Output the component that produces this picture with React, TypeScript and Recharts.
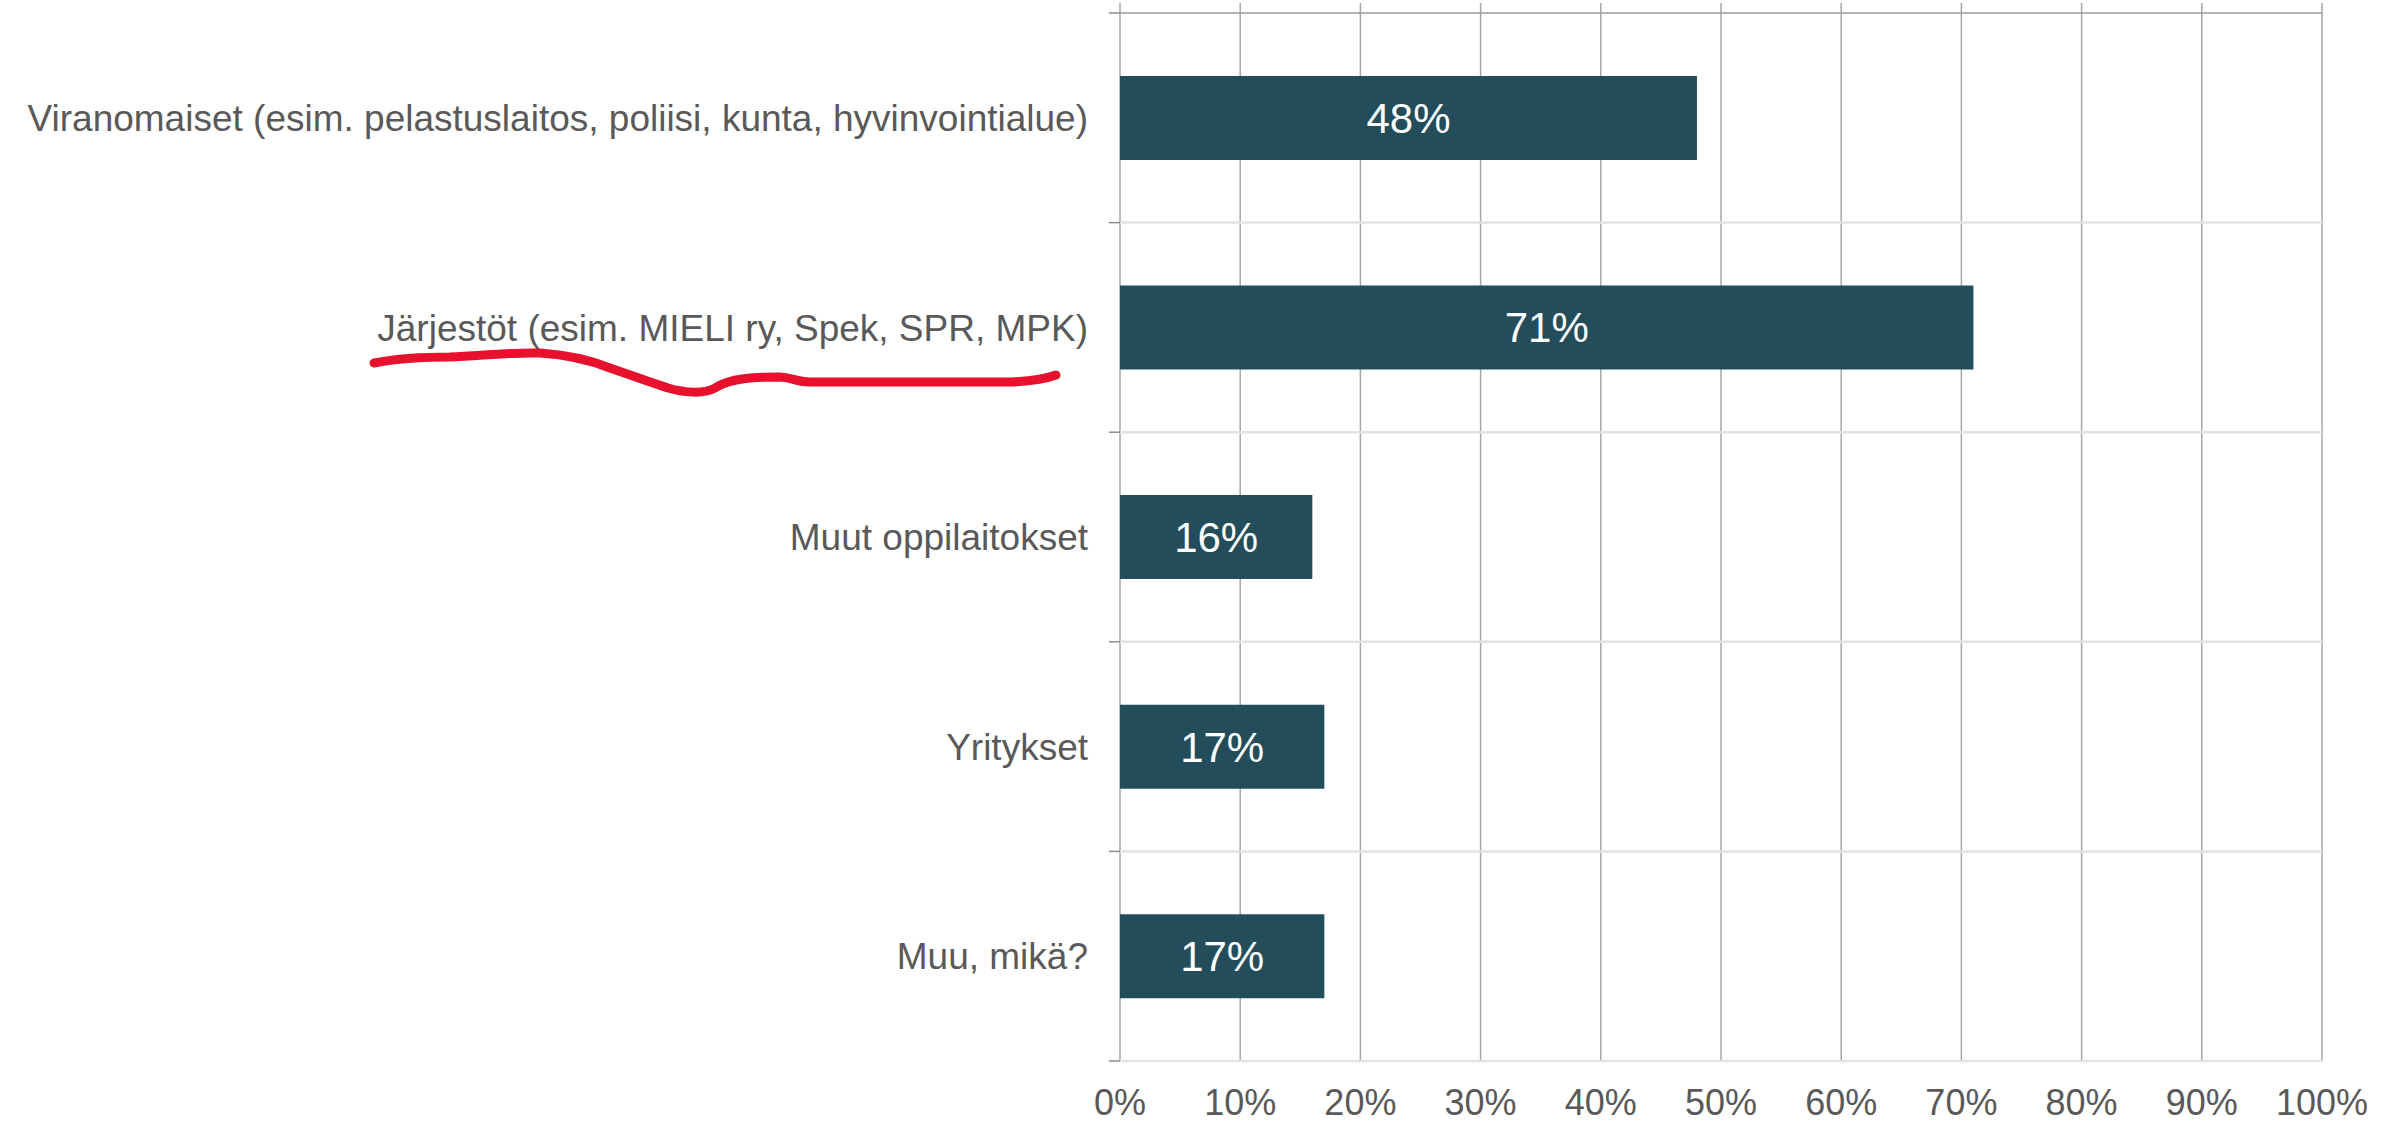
import { BarChart, Bar, XAxis, YAxis, CartesianGrid, LabelList } from 'recharts';

const categories = [
  'Viranomaiset (esim. pelastuslaitos, poliisi, kunta, hyvinvointialue)',
  'Järjestöt (esim. MIELI ry, Spek, SPR, MPK)',
  'Muut oppilaitokset',
  'Yritykset',
  'Muu, mikä?',
];
const shares = [48, 71, 16, 17, 17];
const xTicks = [0, 10, 20, 30, 40, 50, 60, 70, 80, 90, 100];

const data = categories.map((name, i) => ({ name, value: shares[i] }));

const FONT = '"Liberation Sans", Arial, sans-serif';
const TEXT = '#595959';

const CHART_H = 1124;
const MARGIN_TOP = 3;
const X_AXIS_H = 63;
const PAD_TOP = 10;
const LABEL_GAP = 32;
// height of one category band
const bandStep = (CHART_H - MARGIN_TOP - X_AXIS_H - PAD_TOP) / categories.length;

// band boundaries for the light separator lines
const bandLines = ({ offset }: any) => {
  const top = offset.top + PAD_TOP;
  const h = offset.height - PAD_TOP;
  return categories.map((_, i) => top + ((i + 1) * h) / categories.length);
};
const topLine = ({ offset }: any) => [offset.top + PAD_TOP];

// label plus the short outward tick at the top (and for the last one, bottom) of each band
const CategoryTick = (props: any) => {
  const { x, y, payload, index } = props;
  const tx = x + LABEL_GAP;
  return (
    <g>
      <line x1={tx - 11} x2={tx} y1={y - bandStep / 2} y2={y - bandStep / 2} stroke="#8c8c8c" strokeWidth={1.5} />
      {index === categories.length - 1 && (
        <line x1={tx - 11} x2={tx} y1={y + bandStep / 2} y2={y + bandStep / 2} stroke="#8c8c8c" strokeWidth={1.5} />
      )}
      <text x={x} y={y} dy="0.355em" textAnchor="end" fill={TEXT} fontSize={37} fontFamily={FONT}>
        {payload.value}
      </text>
    </g>
  );
};

// hand-drawn red underline from the original screenshot (annotation, not data)
const underline = 'M374 363 C 400 358, 425 357, 450 357 C 480 356, 510 352, 540 353 C 570 355, 590 360, 610 368 C 630 375, 650 382, 668 388 C 685 393, 705 394, 715 388 C 730 378, 755 377, 780 377 C 795 378, 795 382, 810 382 L 1012 382 C 1030 381, 1045 379, 1056 375';

export default function App() {
  return (
    <div style={{ position: 'absolute', left: 0, top: 0, width: 2399, height: CHART_H, background: '#fff', fontFamily: FONT }}>
      <BarChart
        width={2399}
        height={CHART_H}
        data={data}
        layout="vertical"
        margin={{ top: MARGIN_TOP, right: 77, bottom: 0, left: 0 }}
        barCategoryGap="30%"
      >
        <CartesianGrid horizontal={false} stroke="#a6a6a6" strokeWidth={1.5} />
        <CartesianGrid vertical={false} horizontalCoordinatesGenerator={bandLines} stroke="#e2e2e2" strokeWidth={2.5} />
        <CartesianGrid vertical={false} horizontalCoordinatesGenerator={topLine} stroke="#9a9a9a" strokeWidth={1.5} />
        <XAxis
          type="number"
          domain={[0, 100]}
          ticks={xTicks}
          tickFormatter={(v) => `${v}%`}
          axisLine={false}
          tickLine={false}
          tickSize={0}
          tickMargin={28}
          height={X_AXIS_H}
          tick={{ fill: TEXT, fontSize: 36, fontFamily: FONT }}
          interval={0}
        />
        <YAxis
          type="category"
          dataKey="name"
          padding={{ top: PAD_TOP, bottom: 0 }}
          width={1120}
          axisLine={false}
          tickLine={false}
          tickSize={0}
          tickMargin={LABEL_GAP}
          tick={<CategoryTick />}
          interval={0}
        />
        <Bar dataKey="value" fill="#234d5b" isAnimationActive={false}>
          <LabelList
            dataKey="value"
            position="center"
            formatter={(v: number) => `${v}%`}
            fill="#ffffff"
            fontSize={42}
            fontFamily={FONT}
          />
        </Bar>
      </BarChart>
      <svg width={2399} height={CHART_H} style={{ position: 'absolute', left: 0, top: 0, pointerEvents: 'none' }}>
        <path d={underline} fill="none" stroke="#e8112d" strokeWidth={9} strokeLinecap="round" strokeLinejoin="round" />
      </svg>
    </div>
  );
}
